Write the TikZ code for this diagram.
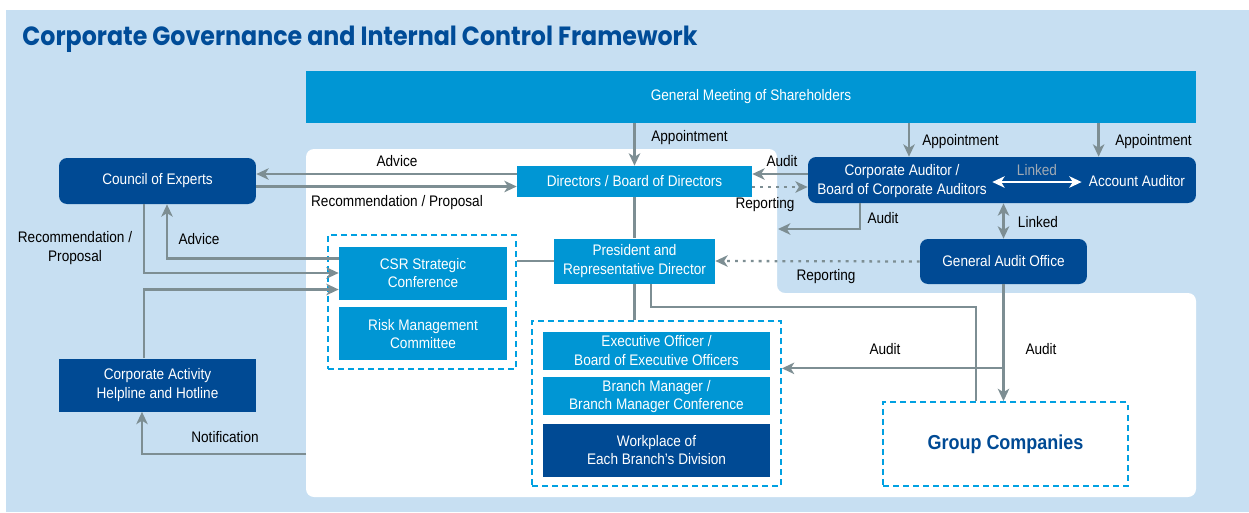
\documentclass[tikz,border=0pt]{standalone}
\usepackage{fontspec}
\setmainfont{Liberation Sans}[FakeStretch=0.89]
\newfontfamily\titlefont{Poppins}[FakeStretch=0.9]
\usepackage{color}
\definecolor{mybg}{RGB}{199,223,242}
\definecolor{mycyan}{RGB}{0,150,212}
\definecolor{mynavy}{RGB}{0,74,148}
\definecolor{mytitle}{RGB}{0,76,152}
\definecolor{mygray}{RGB}{125,142,147}
\definecolor{mydash}{RGB}{0,160,225}
\definecolor{mylink}{RGB}{160,170,180}
\usepackage{tikz}
\usetikzlibrary{arrows.meta,positioning,calc}
\tikzstyle{cyanbox}=[fill=mycyan,text=white,align=center,inner sep=0pt]
\tikzstyle{navybox}=[fill=mynavy,text=white,align=center,inner sep=0pt]
\tikzstyle{roundbox}=[navybox,rounded corners=0.16cm]
\tikzstyle{groupbox}=[draw=mydash,line width=1.1pt,dash pattern=on 3.4pt off 2.3pt,inner sep=0pt]
\tikzstyle{plain}=[draw=mygray,line width=1.3pt]
\tikzstyle{arr}=[plain,-{Stealth[length=7pt,width=6.5pt,inset=2pt]}]
\tikzstyle{dots}=[arr,dash pattern=on 1.6pt off 2.9pt]
\tikzstyle{link}=[draw=white,line width=1.3pt,{Stealth[length=7pt,width=6.5pt,inset=2pt]}-{Stealth[length=7pt,width=6.5pt,inset=2pt]}]
\tikzstyle{lbl}=[text=black,inner sep=0pt,align=center]

\begin{document}
\begin{tikzpicture}[x=0.02cm,y=-0.02cm,font=\fontsize{8.7}{10.3}\selectfont]
\useasboundingbox (0,0) rectangle (1249,512);
\fill[mybg] (6,10) rectangle (1249,512);
\fill[white,rounded corners=0.16cm] (306,149) -- (777,149) -- (777,293) -- (1196,293) -- (1196,497) -- (306,497) -- cycle;

\node[anchor=west,inner sep=0pt,text=mytitle,font=\titlefont\bfseries\fontsize{15}{18}\selectfont] (title) at (22,39) {Corporate Governance and Internal Control Framework};

\node[cyanbox,minimum width=17.8cm,minimum height=1.04cm] (gms) at (751,97) {General Meeting of Shareholders};
\node[roundbox,minimum width=3.94cm,minimum height=0.92cm] (coe) at (157.5,181) {Council of Experts};
\node[cyanbox,minimum width=4.7cm,minimum height=0.62cm] (dir) at (634.5,181.5) {Directors / Board of Directors};
\node[roundbox,minimum width=7.76cm,minimum height=0.92cm] (aud) at (1002,180) {};
\node[text=white,align=center,inner sep=0pt] (cau) at (902,181) {Corporate Auditor /\\Board of Corporate Auditors};
\node[text=white,inner sep=0pt] (acc) at (1137,181) {Account Auditor};
\node[roundbox,minimum width=3.34cm,minimum height=0.9cm] (gao) at (1003.5,261.5) {General Audit Office};
\node[cyanbox,minimum width=3.22cm,minimum height=0.9cm] (pres) at (634.5,261) {President and\\Representative Director};

\node[groupbox,minimum width=3.76cm,minimum height=2.68cm] (csrg) at (422,302) {};
\node[cyanbox,minimum width=3.36cm,minimum height=1.06cm] (csr) at (423,273) {CSR Strategic\\Conference};
\node[cyanbox,minimum width=3.36cm,minimum height=1.06cm,below=0.14cm of csr] (risk) {Risk Management\\Committee};

\node[groupbox,minimum width=4.98cm,minimum height=3.3cm] (exg) at (656.5,403.5) {};
\node[cyanbox,minimum width=4.54cm,minimum height=0.76cm] (exec) at (656.5,350.5) {Executive Officer /\\Board of Executive Officers};
\node[cyanbox,minimum width=4.54cm,minimum height=0.76cm,below=0.14cm of exec] (bm) {Branch Manager /\\Branch Manager Conference};
\node[navybox,minimum width=4.54cm,minimum height=1.06cm,below=0.16cm of bm] (work) {Workplace of\\Each Branch’s Division};

\node[groupbox,minimum width=4.9cm,minimum height=1.68cm,text=mynavy,font=\bfseries\fontsize{11.5}{13}\selectfont] (grp) at (1005.5,444) {Group Companies};
\node[navybox,minimum width=3.94cm,minimum height=1.06cm] (help) at (157.5,385) {Corporate Activity\\Helpline and Hotline};

\coordinate (auditin) at (778,229);
\coordinate (grpbend) at (976,307);
\coordinate (notif) at (306,454);
\path (gao.south) ++(0,84) coordinate (fork);

\draw[arr] (gms.south -| dir) -- (dir.north);
\draw[arr] ([xshift=0.14cm]gms.south -| cau.north) -- ([xshift=0.14cm]aud.north -| cau.north);
\draw[arr] ([xshift=0.2cm]gms.south -| acc.west) -- ([xshift=0.2cm]aud.north -| acc.west);
\draw[arr] ([yshift=0.12cm]aud.west) -- ([yshift=0.12cm]aud.west -| dir.east);
\draw[dots] ([yshift=-0.14cm]aud.west -| dir.east) -- ([yshift=-0.14cm]aud.west);
\draw[arr] ([xshift=-2.84cm]aud.south) |- (auditin);
\draw[link,shorten <=3pt,shorten >=4pt] ([yshift=-0.02cm]cau.east) -- ([yshift=-0.02cm]cau.east -| acc.west);
\draw[plain,{Stealth[length=7pt,width=6.5pt,inset=2pt]}-{Stealth[length=7pt,width=6.5pt,inset=2pt]}] (aud.south -| gao) -- (gao.north);
\draw[dots] (gao.west) -- (pres.east);

\draw[plain] (dir.south) -- (pres.north);
\draw[plain] (pres.south) -- (pres.south |- exg.north);
\draw[plain] (pres.west) -- (pres.west -| csrg.east);
\draw[plain] ([xshift=0.33cm]pres.south) |- (grpbend) -- (grpbend |- grp.north);
\draw[arr] (gao.south) -- (gao.south |- grp.north);
\draw[arr] (fork) -- (fork -| exg.east);

\draw[arr] ([yshift=0.15cm]dir.west) -- ([yshift=0.15cm]dir.west -| coe.east);
\draw[arr] ([yshift=-0.11cm]coe.east) -- ([yshift=-0.11cm]coe.east -| dir.west);
\draw[arr] ([yshift=0.29cm]csr.west) -| ([xshift=0.19cm]coe.south);
\draw[arr] ([xshift=-0.27cm]coe.south) |- (csr.west);
\draw[arr] ([xshift=-0.27cm]help.north) |- ([yshift=-0.33cm]csr.west);
\draw[arr] (notif) -| ([xshift=-0.31cm]help.south);

\node[lbl,anchor=west] (l1) at (651,138) {Appointment};
\node[lbl,anchor=west] (l2) at (922,142) {Appointment};
\node[lbl,anchor=west] (l3) at (1115,142) {Appointment};
\node[lbl] (l4) at (782,161) {Audit};
\node[lbl] (l5) at (765,205) {Reporting};
\node[lbl] (l6) at (883,218) {Audit};
\node[lbl,text=mylink] (l7) at (1037,170) {Linked};
\node[lbl] (l8) at (1038,222) {Linked};
\node[lbl] (l9) at (826,277) {Reporting};
\node[lbl] (l10) at (885,349) {Audit};
\node[lbl] (l11) at (1041,349) {Audit};
\node[lbl] (l12) at (397,161) {Advice};
\node[lbl] (l13) at (397,203) {Recommendation / Proposal};
\node[lbl] (l14) at (199,239) {Advice};
\node[lbl] (l15) at (75,248) {Recommendation /\\Proposal};
\node[lbl] (l16) at (225,437) {Notification};
\end{tikzpicture}
\end{document}
